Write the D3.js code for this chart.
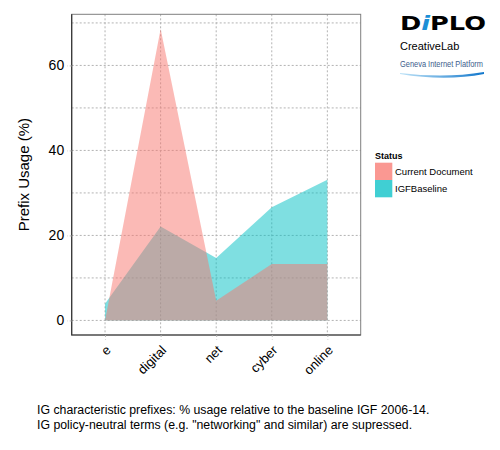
<!DOCTYPE html>
<html>
<head>
<meta charset="utf-8">
<script src="https://cdn.jsdelivr.net/npm/d3@7"></script>
<style>
  body { margin: 0; background: #fff; }
  text { font-family: "Liberation Sans", Arial, sans-serif; }
</style>
</head>
<body>
<div id="chart"></div>
<script>
// prefixes and usage (%) per status
var prefixes = ["e", "digital", "net", "cyber", "online"];
var currentDoc = [0, 68.6, 4.6, 13.3, 13.3];
var igfBaseline = [3.9, 22.1, 14.7, 26.6, 33.1];
var statusNames = ["Current Document", "IGFBaseline"];
var statusColors = ["#F8766D", "#00BFC4"];
var yTicks = [0, 20, 40, 60];
var yGrid = [0, 10, 20, 30, 40, 50, 60, 70];
var captionLines = [
  "IG characteristic prefixes: % usage relative to the baseline IGF 2006-14.",
  "IG policy-neutral terms (e.g. \"networking\" and similar) are supressed."
];

// panel box
var margin = {top: 14.3, left: 71.7},
    width = 289,
    height = 320.7;

var svg = d3.select("#chart").append("svg")
    .attr("width", 500)
    .attr("height", 450);

var x = d3.scalePoint()
    .domain(prefixes)
    .range([margin.left, margin.left + width])
    .padding(0.6);

var yMax = d3.max(currentDoc.concat(igfBaseline)),
    pad = yMax * 0.05;
var y = d3.scaleLinear()
    .domain([-pad, yMax + pad])
    .range([margin.top + height, margin.top]);

// grid
var grid = svg.append("g")
    .attr("stroke", "#b3b3b3")
    .attr("stroke-width", 1)
    .attr("stroke-dasharray", "2,2");

grid.selectAll(".hg")
  .data(yGrid)
  .enter().append("line")
    .attr("x1", margin.left).attr("x2", margin.left + width)
    .attr("y1", function(d) { return y(d); })
    .attr("y2", function(d) { return y(d); });

grid.selectAll(".vg")
  .data(prefixes)
  .enter().append("line")
    .attr("y1", margin.top).attr("y2", margin.top + height)
    .attr("x1", function(d) { return x(d); })
    .attr("x2", function(d) { return x(d); });

// areas: baseline first, current document on top
var area = d3.area()
    .x(function(d, i) { return x(prefixes[i]); })
    .y0(y(0))
    .y1(function(d) { return y(d); });

svg.append("path")
    .datum(igfBaseline)
    .attr("d", area)
    .attr("fill", statusColors[1])
    .attr("fill-opacity", 0.5);

svg.append("path")
    .datum(currentDoc)
    .attr("d", area)
    .attr("fill", statusColors[0])
    .attr("fill-opacity", 0.5);

// panel border
svg.append("rect")
    .attr("x", margin.left).attr("y", margin.top)
    .attr("width", width).attr("height", height)
    .attr("fill", "none")
    .attr("stroke", "#7f7f7f")
    .attr("stroke-width", 1);

svg.append("path")
    .attr("d", "M" + margin.left + "," + margin.top + "V" + (margin.top + height) + "H" + (margin.left + width))
    .attr("fill", "none")
    .attr("stroke", "#333")
    .attr("stroke-width", 1.2);

// y axis
var yAxis = svg.append("g")
    .attr("transform", "translate(" + margin.left + ",0)")
    .call(d3.axisLeft(y).tickValues(yTicks).tickSize(4.5).tickPadding(3));
yAxis.select(".domain").remove();
yAxis.selectAll(".tick line")
    .attr("stroke", "#b3b3b3")
    .attr("stroke-dasharray", "2,2");
yAxis.selectAll(".tick text")
    .attr("font-size", 14)
    .attr("fill", "#000")
    .style("font-family", "Liberation Sans, Arial, sans-serif");

// x axis
var xAxis = svg.append("g")
    .attr("transform", "translate(0," + (margin.top + height) + ")")
    .call(d3.axisBottom(x).tickSize(4.5).tickPadding(0));
xAxis.select(".domain").remove();
xAxis.selectAll(".tick line")
    .attr("stroke", "#b3b3b3")
    .attr("stroke-dasharray", "2,2");
xAxis.selectAll(".tick text")
    .attr("font-size", 13)
    .attr("fill", "#000")
    .attr("text-anchor", "end")
    .attr("dy", null)
    .attr("y", 0)
    .attr("transform", "translate(6,16) rotate(-45)")
    .style("font-family", "Liberation Sans, Arial, sans-serif");

// y title
svg.append("text")
    .attr("transform", "translate(29," + (margin.top + height / 2) + ") rotate(-90)")
    .attr("text-anchor", "middle")
    .attr("font-size", 15)
    .text("Prefix Usage (%)");

// legend
var legend = svg.append("g").attr("transform", "translate(375,0)");
legend.append("text")
    .attr("x", 0).attr("y", 158.5)
    .attr("font-size", 9)
    .attr("font-weight", "bold")
    .text("Status");
var keys = legend.selectAll(".key")
  .data(statusNames)
  .enter().append("g")
    .attr("transform", function(d, i) { return "translate(0," + (162.7 + i * 17.3) + ")"; });
keys.append("rect")
    .attr("width", 17.3).attr("height", 17.3)
    .attr("fill", function(d, i) { return statusColors[i]; })
    .attr("fill-opacity", 0.75);
keys.append("text")
    .attr("x", 20).attr("y", 12.3)
    .attr("font-size", 9.5)
    .text(function(d) { return d; });

// caption
svg.selectAll(".caption")
  .data(captionLines)
  .enter().append("text")
    .attr("x", 37)
    .attr("y", function(d, i) { return 414 + i * 15; })
    .attr("font-size", 12.3)
    .text(function(d) { return d; });

// logo
var logo = svg.append("g");
logo.append("text")
    .attr("x", 400).attr("y", 30)
    .attr("font-size", 20)
    .attr("font-weight", "bold")
    .style("font-family", "DejaVu Sans, sans-serif")
    .attr("textLength", 86)
    .attr("lengthAdjust", "spacingAndGlyphs")
    .html('D<tspan fill="#1b8fd6" font-style="italic">i</tspan>PLO');
logo.append("text")
    .attr("x", 400).attr("y", 50)
    .attr("font-size", 11)
    .text("CreativeLab");
logo.append("text")
    .attr("x", 400).attr("y", 67)
    .attr("font-size", 9)
    .attr("fill", "#3d5d8c")
    .attr("textLength", 83)
    .attr("lengthAdjust", "spacingAndGlyphs")
    .text("Geneva Internet Platform");

var grad = svg.append("defs").append("linearGradient")
    .attr("id", "swoosh");
grad.append("stop").attr("offset", "0%").attr("stop-color", "#bfe3f7");
grad.append("stop").attr("offset", "100%").attr("stop-color", "#1177cc");
logo.append("path")
    .attr("d", "M400,73 Q445,78.5 484,72 L484,74 Q445,81.5 400,74 Z")
    .attr("fill", "url(#swoosh)");
</script>
</body>
</html>
